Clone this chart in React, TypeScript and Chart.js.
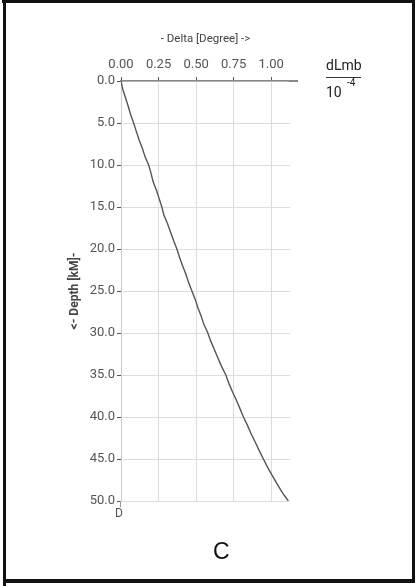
import React, { useEffect, useRef } from 'react';
import { Chart, registerables } from 'chart.js';

Chart.register(...registerables);

const depthKm = [0, 1, 2, 3, 4, 5, 6, 7, 8, 9, 10, 11, 12, 13, 14, 15, 16, 17, 18, 19, 20, 21, 22, 23, 24, 25, 26, 27, 28, 29, 30, 31, 32, 33, 34, 35, 36, 37, 38, 39, 40, 41, 42, 43, 44, 45, 46, 47, 48, 49, 50];
const deltaDeg = [0.0, 0.012, 0.03, 0.048, 0.064, 0.084, 0.102, 0.12, 0.142, 0.16, 0.184, 0.2, 0.214, 0.236, 0.254, 0.272, 0.286, 0.31, 0.33, 0.35, 0.372, 0.39, 0.41, 0.432, 0.45, 0.472, 0.494, 0.512, 0.534, 0.552, 0.578, 0.598, 0.622, 0.646, 0.67, 0.698, 0.718, 0.742, 0.768, 0.792, 0.815, 0.842, 0.866, 0.894, 0.92, 0.948, 0.976, 1.008, 1.04, 1.074, 1.114];
const xTicks = [0, 0.25, 0.5, 0.75, 1.0];
const yTicks = [0, 5, 10, 15, 20, 25, 30, 35, 40, 45, 50];
const xTitle = '- Delta [Degree] ->';
const yTitle = '<- Depth [kM]-';

export default function App() {
  const ref = useRef<HTMLCanvasElement | null>(null);
  useEffect(() => {
    if (!ref.current) return;
    const chart = new Chart(ref.current, {
      type: 'scatter',
      data: {
        datasets: [
          {
            data: depthKm.map((d, i) => ({ x: deltaDeg[i], y: d })),
            showLine: true,
            borderColor: '#555555',
            borderWidth: 1.4,
            pointRadius: 0,
            tension: 0,
          },
        ],
      },
      options: {
        animation: false,
        responsive: false,
        devicePixelRatio: 1,
        layout: { padding: { left: 60, top: 32, right: 127, bottom: 85 } },
        plugins: { legend: { display: false }, tooltip: { enabled: false } },
        scales: {
          x: {
            type: 'linear',
            position: 'top',
            min: 0,
            max: 1.125,
            afterBuildTicks: (s: any) => {
              s.ticks = xTicks.map((v) => ({ value: v }));
            },
            afterFit: (s: any) => {
              s.height = 49;
            },
            ticks: {
              callback: (v: any) => Number(v).toFixed(2),
              color: '#555',
              font: { family: 'Roboto', size: 13 },
              padding: 4,
              maxRotation: 0,
            },
            grid: { color: '#dddddd', tickColor: '#555', tickLength: 4, lineWidth: 1 },
            border: { color: '#888', width: 1.5 },
            title: {
              display: true,
              text: xTitle,
              color: '#444',
              font: { family: 'Roboto', size: 11.5 },
              padding: { top: 0, bottom: 6 },
            },
          },
          y: {
            type: 'linear',
            reverse: true,
            min: 0,
            max: 50,
            afterBuildTicks: (s: any) => {
              s.ticks = yTicks.map((v) => ({ value: v }));
            },
            afterFit: (s: any) => {
              s.width = 61;
            },
            ticks: {
              callback: (v: any) => Number(v).toFixed(1),
              color: '#555',
              font: { family: 'Roboto', size: 13 },
              padding: 2,
            },
            grid: { color: '#dddddd', tickColor: '#555', tickLength: 4, lineWidth: 1 },
            border: { color: '#cccccc', width: 1 },
            title: {
              display: true,
              text: yTitle,
              color: '#444',
              font: { family: 'Roboto', size: 12, weight: 'bold' },
              padding: { top: 8, bottom: 0 },
            },
          },
        },
      },
    });
    return () => chart.destroy();
  }, []);

  const bar = (s: React.CSSProperties) => (
    <div style={{ position: 'absolute', background: '#111', ...s }} />
  );

  return (
    <div style={{ position: 'fixed', left: 0, top: 0, width: 417, height: 586, background: '#fff' }}>
      <canvas ref={ref} width={417} height={586} style={{ position: 'absolute', left: 0, top: 0 }} />
      {bar({ left: 2, top: 0, width: 413, height: 3 })}
      {bar({ left: 3, top: 0, width: 3, height: 586 })}
      {bar({ left: 412, top: 0, width: 3, height: 582 })}
      {bar({ left: 3, top: 579, width: 412, height: 4 })}
      <div style={{ position: 'absolute', left: 289, top: 80, width: 9, height: 1.5, background: '#888' }} />
      <div style={{ position: 'absolute', left: 120, top: 501, width: 1, height: 6, background: '#999' }} />
      <div style={{ position: 'absolute', left: 326, top: 58, fontFamily: 'Roboto', fontSize: 14, color: '#222', lineHeight: '15px' }}>
        <div style={{ borderBottom: '1px solid #333', paddingBottom: 4, width: 35 }}>dLmb</div>
        <div style={{ marginTop: 7, position: 'relative' }}>
          10<span style={{ position: 'absolute', left: 21, top: -10, fontSize: 10 }}>-4</span>
        </div>
      </div>
      <div style={{ position: 'absolute', left: 115, top: 506, fontFamily: 'Roboto', fontSize: 12, color: '#555' }}>D</div>
      <div style={{ position: 'absolute', left: 213, top: 538, fontFamily: '"Liberation Sans", Arial, sans-serif', fontSize: 23, color: '#111' }}>C</div>
    </div>
  );
}
